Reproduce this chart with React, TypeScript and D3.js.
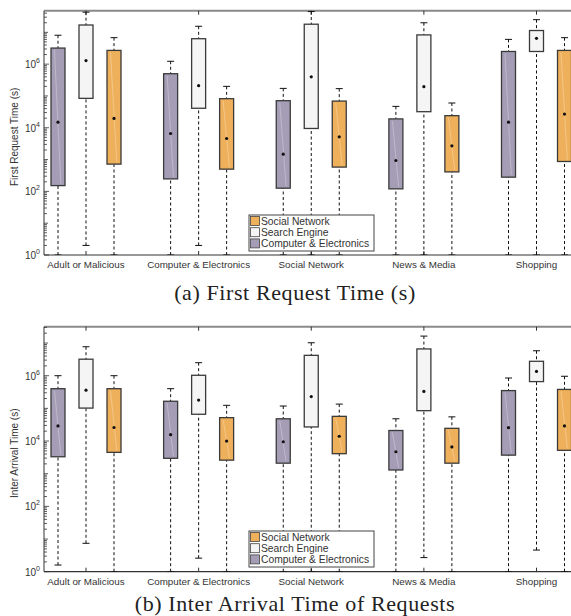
import { useEffect, useRef } from 'react';
import * as d3 from 'd3';

const categories = ['Adult or Malicious', 'Computer & Electronics', 'Social Network', 'News & Media', 'Shopping'];
const seriesNames = ['Computer & Electronics', 'Search Engine', 'Social Network'];
const seriesColors = ['#A59DB6', '#F5F5F5', '#EFB05B'];
const legendOrder = ['Social Network', 'Search Engine', 'Computer & Electronics'];

// each row: [lower whisker, q1, mean, q3, upper whisker]
const firstComputer = [
  [1, 152, 1.5e4, 3.2e6, 8.1e6],
  [1, 247, 6.6e3, 5e5, 1.23e6],
  [1, 126, 1.48e3, 7.1e4, 1.73e5],
  [1, 120, 935, 1.9e4, 4.7e4],
  [1, 280, 1.5e4, 2.5e6, 6e6],
];
const firstSearch = [
  [2, 8.4e4, 1.29e6, 1.7e7, 4.3e7],
  [2, 4.1e4, 2.1e5, 6.3e6, 1.55e7],
  [1, 9.5e3, 4e5, 1.8e7, 4.5e7],
  [1, 3.2e4, 1.95e5, 8.3e6, 2e7],
  [1, 2.5e6, 6.5e6, 1.14e7, 2.5e7],
];
const firstSocial = [
  [1, 720, 1.96e4, 2.7e6, 6.8e6],
  [1, 500, 4.6e3, 8.2e4, 2e5],
  [1, 580, 5.2e3, 6.9e4, 1.7e5],
  [1, 410, 2.7e3, 2.4e4, 6e4],
  [1, 870, 2.7e4, 2.7e6, 6.8e6],
];

const interComputer = [
  [1.6, 3.3e3, 2.9e4, 4e5, 1e6],
  [1, 2.96e3, 1.56e4, 1.65e5, 4e5],
  [1, 2.1e3, 9.5e3, 4.8e4, 1.18e5],
  [1, 1.3e3, 4.7e3, 2.1e4, 4.8e4],
  [1, 3.7e3, 2.56e4, 3.5e5, 8.5e5],
];
const interSearch = [
  [7.4, 1.02e5, 3.6e5, 3.2e6, 7.7e6],
  [2.6, 6.6e4, 1.8e5, 1.03e6, 2.5e6],
  [1, 2.7e4, 2.3e5, 4.2e6, 1.02e7],
  [2.7, 8.5e4, 3.3e5, 6.6e6, 1.63e7],
  [4.6, 6.6e5, 1.35e6, 2.76e6, 5.8e6],
];
const interSocial = [
  [1, 4.5e3, 2.6e4, 4e5, 1e6],
  [1, 2.6e3, 1e4, 5.2e4, 1.24e5],
  [1, 4.1e3, 1.4e4, 5.7e4, 1.35e5],
  [1, 2.1e3, 6.6e3, 2.45e4, 5.5e4],
  [1, 5.2e3, 2.9e4, 3.8e5, 9.6e5],
];

const panels = [
  { title: 'First Request Time (s)', caption: '(a) First Request Time (s)', top: 10.7, bottom: 255, maxExp: 7.68, series: [firstComputer, firstSearch, firstSocial], legendY: 215, captionY: 300 },
  { title: 'Inter Arrival Time (s)', caption: '(b) Inter Arrival Time of Requests', top: 326.7, bottom: 571.7, maxExp: 7.5, series: [interComputer, interSearch, interSocial], legendY: 531, captionY: 611 },
];

const W = 571;
const H = 616;
const plotLeft = 44;
const plotRight = 620;
const sans = 'Liberation Sans, Arial, sans-serif';

export default function App() {
  const ref = useRef<SVGSVGElement>(null);

  useEffect(() => {
    if (!ref.current) return;
    const svg = d3.select(ref.current);
    svg.selectAll('*').remove();

    const x = d3.scalePoint<string>().domain(categories).range([86, 536.5]);
    const offset = d3.scalePoint<string>().domain(seriesNames).range([-28, 28]);
    const boxW = 14;
    const capW = 7;

    panels.forEach((p, pi) => {
      const y = d3.scaleLog().domain([1, Math.pow(10, p.maxExp)]).range([p.bottom, p.top]);
      const g = svg.append('g');

      const clipId = `clip-${pi}`;
      svg.append('defs').append('clipPath').attr('id', clipId)
        .append('rect').attr('x', plotLeft).attr('y', p.top).attr('width', plotRight - plotLeft).attr('height', p.bottom - p.top);

      // top border
      g.append('line').attr('x1', plotLeft).attr('x2', plotRight).attr('y1', p.top).attr('y2', p.top)
        .attr('stroke', '#8a8a8a').attr('stroke-width', 2);

      // y ticks (major + minor)
      const tickG = g.append('g');
      for (let e = 0; e < Math.ceil(p.maxExp); e++) {
        for (let m = 1; m <= 9; m++) {
          const v = m * Math.pow(10, e);
          if (v > Math.pow(10, p.maxExp)) continue;
          const len = m === 1 ? (e % 2 === 0 ? 5 : 4) : 3;
          tickG.append('line').attr('x1', plotLeft).attr('x2', plotLeft + len)
            .attr('y1', y(v)).attr('y2', y(v)).attr('stroke', '#333').attr('stroke-width', 0.8);
        }
      }
      [0, 2, 4, 6].forEach((e) => {
        const t = tickG.append('text').attr('x', 40).attr('y', y(Math.pow(10, e)) + 4)
          .attr('text-anchor', 'end').attr('font-family', sans).attr('font-size', 10).attr('fill', '#333');
        t.append('tspan').text('10');
        t.append('tspan').attr('dy', -5).attr('font-size', 7).text(String(e));
      });

      // axis lines
      g.append('line').attr('x1', plotLeft).attr('x2', plotLeft).attr('y1', p.top).attr('y2', p.bottom)
        .attr('stroke', '#333').attr('stroke-width', 1);
      g.append('line').attr('x1', plotLeft).attr('x2', plotRight).attr('y1', p.bottom).attr('y2', p.bottom)
        .attr('stroke', '#333').attr('stroke-width', 1.2);

      // x ticks and labels
      categories.forEach((c) => {
        const cx = x(c) ?? 0;
        g.append('line').attr('x1', cx).attr('x2', cx).attr('y1', p.bottom).attr('y2', p.bottom - 4).attr('stroke', '#333');
        g.append('line').attr('x1', cx).attr('x2', cx).attr('y1', p.top).attr('y2', p.top + 4).attr('stroke', '#333');
        g.append('text').attr('x', cx).attr('y', p.bottom + 13).attr('text-anchor', 'middle')
          .attr('font-family', sans).attr('font-size', 9.8).attr('fill', '#333').text(c);
      });

      // y title
      g.append('text')
        .attr('transform', `translate(18,${(p.top + p.bottom) / 2 + 4}) rotate(-90)`)
        .attr('text-anchor', 'middle').attr('font-family', sans).attr('font-size', 10).attr('fill', '#333')
        .text(p.title);

      // boxes
      const boxG = g.append('g').attr('clip-path', `url(#${clipId})`);
      p.series.forEach((rows, si) => {
        const name = seriesNames[si];
        rows.forEach((r, ci) => {
          const cx = (x(categories[ci]) ?? 0) + (offset(name) ?? 0);
          const [lo, q1, mean, q3, hi] = r;
          // whiskers
          [[hi, q3], [lo, q1]].forEach(([a, b]) => {
            boxG.append('line').attr('x1', cx).attr('x2', cx).attr('y1', y(a)).attr('y2', y(b))
              .attr('stroke', '#111').attr('stroke-width', 1).attr('stroke-dasharray', '3,2.5');
            boxG.append('line').attr('x1', cx - capW / 2).attr('x2', cx + capW / 2).attr('y1', y(a)).attr('y2', y(a))
              .attr('stroke', '#111').attr('stroke-width', 1);
          });
          boxG.append('rect').attr('x', cx - boxW / 2).attr('y', y(q3)).attr('width', boxW)
            .attr('height', y(q1) - y(q3)).attr('fill', seriesColors[si]).attr('stroke', '#3a3a3a').attr('stroke-width', 1.3);
          if (si !== 1) {
            boxG.append('line').attr('x1', cx - boxW * 0.25).attr('x2', cx + boxW * 0.2)
              .attr('y1', y(q3) + 2).attr('y2', y(q1) - 2)
              .attr('stroke', '#fff').attr('stroke-opacity', 0.35).attr('stroke-width', 0.8);
          }
          boxG.append('circle').attr('cx', cx).attr('cy', y(mean)).attr('r', 1.6).attr('fill', '#111');
        });
      });

      // legend
      const lg = g.append('g').attr('transform', `translate(249,${p.legendY})`);
      lg.append('rect').attr('width', 125).attr('height', 36).attr('fill', '#fff').attr('stroke', '#444').attr('stroke-width', 1);
      legendOrder.forEach((n, i) => {
        const si = seriesNames.indexOf(n);
        lg.append('rect').attr('x', 1.5).attr('y', 1.5 + i * 11.2).attr('width', 9).attr('height', 9)
          .attr('fill', seriesColors[si]).attr('stroke', '#444').attr('stroke-width', 0.8);
        lg.append('text').attr('x', 12).attr('y', 9.5 + i * 11.2).attr('font-family', sans).attr('font-size', 10.3)
          .attr('fill', '#333').text(n);
      });

      // caption
      svg.append('text').attr('x', 295).attr('y', p.captionY).attr('text-anchor', 'middle')
        .attr('font-family', 'Liberation Serif, serif').attr('font-size', 22).attr('letter-spacing', 0.6)
        .attr('fill', '#222').text(p.caption);
    });
  }, []);

  return (
    <svg ref={ref} width={W} height={H} style={{ position: 'absolute', left: 0, top: 0, background: '#fff' }} />
  );
}
